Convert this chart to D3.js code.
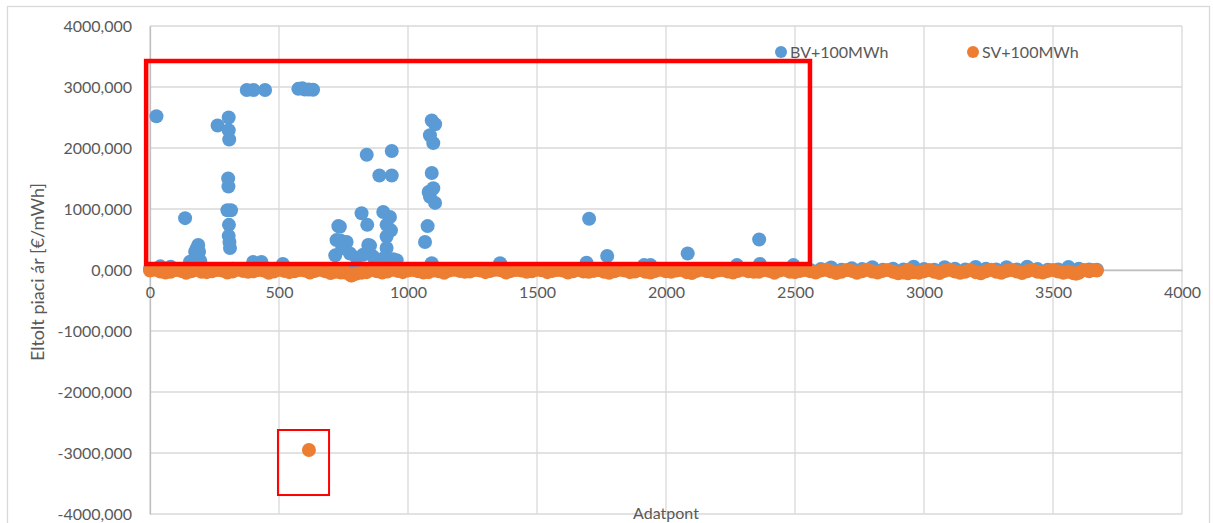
<!DOCTYPE html>
<html>
<head>
<meta charset="utf-8">
<script src="https://cdn.jsdelivr.net/npm/d3@7"></script>
<style>
  body { margin: 0; background: #fff; }
  svg text { font-family: Lato, "Open Sans", sans-serif; fill: #595959; }
</style>
</head>
<body>
<div id="chart"></div>
<script>
// data point index of the dense baseline samples
const baseIdx = [0, 40, 80, 120, 160, 200, 240, 280, 320, 360, 400, 440, 480, 520, 560, 600, 640, 680, 720, 760,
  800, 840, 880, 920, 960, 1000, 1040, 1080, 1120, 1160, 1200, 1240, 1280, 1320, 1360, 1400, 1440, 1480, 1520, 1560,
  1600, 1640, 1680, 1720, 1760, 1800, 1840, 1880, 1920, 1960, 2000, 2040, 2080, 2120, 2160, 2200, 2240, 2280, 2320, 2360,
  2400, 2440, 2480, 2520, 2560, 2600, 2640, 2680, 2720, 2760, 2800, 2840, 2880, 2920, 2960, 3000, 3040, 3080, 3120, 3160,
  3200, 3240, 3280, 3320, 3360, 3400, 3440, 3480, 3520, 3560, 3600, 3640, 3670];

// in-between samples, used to thicken the SV band
const midIdx = [20, 60, 100, 140, 180, 220, 260, 300, 340, 380, 420, 460, 500, 540, 580, 620, 660, 700, 740, 780,
  820, 860, 900, 940, 980, 1020, 1060, 1100, 1140, 1180, 1220, 1260, 1300, 1340, 1380, 1420, 1460, 1500, 1540, 1580,
  1620, 1660, 1700, 1740, 1780, 1820, 1860, 1900, 1940, 1980, 2020, 2060, 2100, 2140, 2180, 2220, 2260, 2300, 2340, 2380,
  2420, 2460, 2500, 2540, 2580, 2620, 2660, 2700, 2740, 2780, 2820, 2860, 2900, 2940, 2980, 3020, 3060, 3100, 3140, 3180,
  3220, 3260, 3300, 3340, 3380, 3420, 3460, 3500, 3540, 3580, 3620, 3655];

// BV+100MWh near-zero values
const bvBase = [20, 60, 55, 10, 40, 20, 10, 15, 20, 10, 30, 10, 5, 20, 10, 5, 10, 15, 20, 10,
  15, 10, 5, 10, 20, 5, 10, 15, 5, 0, 10, 0, 5, 10, 20, 5, 0, 10, 0, 5,
  10, 5, 20, 10, 15, 5, 0, 10, 25, 5, 0, 5, 10, 0, 5, 0, 10, 20, 5, 15,
  0, 5, 15, 5, 0, 15, 40, 5, 30, 15, 45, 5, 20, 10, 55, 15, 5, 45, 20, 10,
  50, 20, 10, 45, 10, 55, 15, 5, 10, 50, 20, 10, 5];

// BV+100MWh outliers [index, price]
const bvPeaks = [[25, 2520], [136, 850], [155, 136], [175, 300], [181, 355], [187, 410], [190, 300], [195, 150],
  [262, 2370], [300, 980], [303, 1500], [304, 1370], [305, 2500], [305, 2290], [307, 2140], [306, 740], [305, 560],
  [308, 460], [310, 360], [314, 980], [375, 2950], [401, 2950], [446, 2950], [400, 130], [432, 130], [515, 100],
  [575, 2970], [590, 2980], [600, 2960], [615, 2960], [632, 2955], [718, 240], [723, 490], [730, 720], [736, 710],
  [740, 480], [745, 360], [762, 460], [775, 270], [800, 200], [826, 250], [820, 930], [840, 1890], [842, 740],
  [846, 410], [853, 400], [865, 220], [889, 1550], [904, 950], [904, 190], [917, 740], [917, 550], [917, 360],
  [930, 870], [934, 650], [937, 1950], [937, 1550], [943, 175], [956, 160], [1066, 460], [1076, 720], [1080, 1280],
  [1085, 1200], [1085, 2210], [1092, 2450], [1092, 1590], [1092, 110], [1098, 1340], [1098, 2080], [1105, 2390],
  [1105, 1100], [1357, 110], [1692, 120], [1702, 840], [1772, 230], [1915, 80], [1940, 80], [2084, 270],
  [2275, 80], [2361, 500], [2364, 100], [2494, 80]];

// SV+100MWh near-zero values
const svBase = [-10, -25, -30, -15, -20, -30, -20, -10, -25, -15, -20, -10, -25, -15, -20, -10, -15, -20, -30, -45,
  -60, -35, -20, -25, -15, -10, -20, -35, -20, -10, -15, -25, -10, -15, -5, -15, -10, -20, -5, -15,
  -10, -20, -25, -15, -30, -20, -10, -25, -30, -15, -20, -10, -35, -15, -20, -10, -25, -15, -20, -30,
  -15, -10, -30, -15, -20, -10, -25, -30, -15, -20, -25, -15, -30, -40, -35, -20, -30, -15, -25, -30,
  -35, -20, -30, -15, -25, -20, -30, -15, -25, -30, -45, -20, -10];
const svMid = [5, -40, 0, -45, 5, -35, 0, -40, 5, -30, 0, -45, 5, -35, 0, -40, 5, -50, -40, -90,
  -45, 0, -40, 5, -35, 0, -40, -10, -45, 5, -30, 0, -35, 5, -40, 0, -30, 5, -35, 0,
  -40, 5, -30, 0, -45, 5, -35, 0, -40, 5, -30, 0, -50, 5, -35, 0, -40, 5, -30, 0,
  -45, 5, -35, 0, -40, 5, -50, 0, -45, 5, -40, 0, -55, 5, -45, 0, -50, 5, -45, 0,
  -55, 5, -45, 0, -50, 5, -40, 0, -45, -55, 0, 0];

// SV+100MWh outliers [index, price]
const svPeaks = [[782, -85], [616, -2950], [2938, -55], [3590, -60]];

const xTicks = [0, 500, 1000, 1500, 2000, 2500, 3000, 3500, 4000];
const yTicks = [-4000, -3000, -2000, -1000, 0, 1000, 2000, 3000, 4000];

const seriesNames = ["BV+100MWh", "SV+100MWh"];
const colors = ["#5B9BD5", "#ED7D31"];

// highlighted regions [x0, x1, y0, y1, stroke width]
const highlights = [[-15, 2558, 3426, 98, 4.5], [496, 694, -2623, -3689, 2]];

const W = 1213, H = 523;
const margin = {top: 26, right: 31, bottom: 9, left: 150};
const width = W - margin.left - margin.right,
  height = H - margin.top - margin.bottom;

const svg = d3.select("#chart").append("svg")
  .attr("width", W)
  .attr("height", H);

// chart border
svg.append("rect")
  .attr("x", 7.5).attr("y", 6.5)
  .attr("width", 1202).attr("height", 530)
  .attr("fill", "none")
  .attr("stroke", "#d9d9d9")
  .attr("stroke-width", 1.3);

const g = svg.append("g")
  .attr("transform", `translate(${margin.left},${margin.top})`);

const x = d3.scaleLinear().domain([0, 4000]).range([0, width]);
const y = d3.scaleLinear().domain([-4000, 4000]).range([height, 0]);

// grid
g.append("g").selectAll("line").data(yTicks)
  .join("line")
  .attr("x1", 0).attr("x2", width)
  .attr("y1", d => y(d)).attr("y2", d => y(d))
  .attr("stroke", "#d9d9d9").attr("stroke-width", 1.3);
g.append("g").selectAll("line").data(xTicks)
  .join("line")
  .attr("x1", d => x(d)).attr("x2", d => x(d))
  .attr("y1", 0).attr("y2", height)
  .attr("stroke", "#d9d9d9").attr("stroke-width", 1.3);

// axes
const yAxisG = g.append("g")
  .call(d3.axisLeft(y).tickValues(yTicks).tickSize(0).tickPadding(18).tickFormat(d => d + ",000"));
yAxisG.select(".domain").attr("stroke", "#bfbfbf").attr("stroke-width", 1.3);
yAxisG.selectAll("text").style("font-size", "16px").attr("fill", "#595959");

const xAxisG = g.append("g")
  .attr("transform", `translate(0,${y(0)})`)
  .call(d3.axisBottom(x).tickValues(xTicks).tickSize(0).tickPadding(17).tickFormat(d3.format("d")));
xAxisG.select(".domain").attr("stroke", "#bfbfbf").attr("stroke-width", 1.3);
xAxisG.selectAll("text").style("font-size", "16px").attr("fill", "#595959");

// points
const bvPoints = baseIdx.map((d, i) => [d, bvBase[i]]).concat(bvPeaks);
const svPoints = baseIdx.map((d, i) => [d, svBase[i]])
  .concat(midIdx.map((d, i) => [d, svMid[i]]))
  .concat(svPeaks);

[bvPoints, svPoints].forEach((pts, k) => {
  g.append("g").selectAll("circle").data(pts)
    .join("circle")
    .attr("cx", d => x(d[0]))
    .attr("cy", d => y(d[1]))
    .attr("r", 7)
    .attr("fill", colors[k]);
});

// highlight boxes
g.append("g").selectAll("rect").data(highlights)
  .join("rect")
  .attr("x", d => x(d[0]))
  .attr("y", d => y(d[2]))
  .attr("width", d => x(d[1]) - x(d[0]))
  .attr("height", d => y(d[3]) - y(d[2]))
  .attr("fill", "none")
  .attr("stroke", "#ff0000")
  .attr("stroke-width", d => d[4]);

// legend
const legend = svg.append("g").selectAll("g").data(seriesNames)
  .join("g")
  .attr("transform", (d, i) => `translate(${781 + i * 192},52)`);
legend.append("circle").attr("r", 6).attr("fill", (d, i) => colors[i]);
legend.append("text")
  .attr("x", 9).attr("dy", "0.35em")
  .style("font-size", "16px")
  .text(d => d);

// axis titles
svg.append("text")
  .attr("transform", `translate(44,272) rotate(-90)`)
  .attr("text-anchor", "middle")
  .style("font-size", "18px")
  .text("Eltolt piaci ár [€/mWh]");

svg.append("text")
  .attr("x", margin.left + width / 2)
  .attr("y", 519)
  .attr("text-anchor", "middle")
  .style("font-size", "16px")
  .text("Adatpont");
</script>
</body>
</html>
